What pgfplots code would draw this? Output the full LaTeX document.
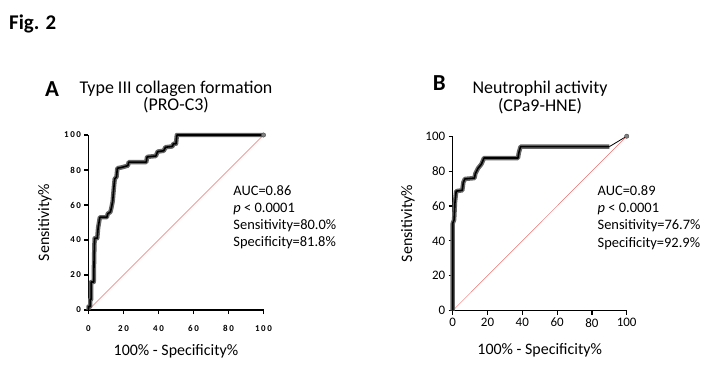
\documentclass[border=0pt]{standalone}
\usepackage{fontspec}
\setmainfont{Carlito}
\usepackage{pgfplots}
\pgfplotsset{compat=1.18}
\definecolor{diag}{RGB}{238,110,110}
\pgfplotsset{rocstyle/.style={scale only axis, xmin=0,xmax=100,ymin=0,ymax=100,
  axis x line*=bottom, axis y line*=left, axis line style={line width=1.5pt,-},
  xtick={0,20,...,100}, ytick={0,20,...,100}, tick align=outside,
  major tick length=4bp, tick style={line width=1.2pt, black}, clip=false,
  /pgf/number format/assume math mode=true,
  label style={font=\fontsize{16}{16}\selectfont}}}
\pgfplotstableread{
x y
0 0
0 2
1 2
1 6
1.5 6
1.5 16
3 16
3.2 30
3.5 41
5 41
5.5 47
6.5 53
10.5 53
11 55
12.5 56
13 58
13.8 62
14.5 70
15 75
16 76
16.5 81
19 81.5
22.5 82.5
23 84.5
33 84.5
33.5 87.5
38.5 88
39.5 90.5
43 91
44 93
48 93.5
48.5 95
50 95
50.5 100
100 100
}\rocA
\pgfplotstableread{
x y
0 0
0 50
0.8 52
1.3 62
2 68.5
5.5 69
6.1 73.5
7 75.5
12.5 76
13 78.5
14.5 81.5
16.5 84
18 87.5
37.5 87.5
38 90.5
39 94
90 94
}\rocB
\begin{document}
\begin{tikzpicture}
\path[use as bounding box] (0bp,0bp) rectangle (716bp,387bp);
\node[anchor=base west, inner sep=0, font=\fontsize{21}{21}\selectfont\bfseries] at (9bp,357.7bp) {Fig. 2};
% Panel A
\node[anchor=base west, inner sep=0, font=\fontsize{23}{23}\selectfont\bfseries] at (45bp,290.3bp) {A};
\node[anchor=base, inner sep=0, font=\fontsize{18}{18}\selectfont] at (176bp,293.7bp) {Type III collagen formation};
\node[anchor=base, inner sep=0, font=\fontsize{18}{18}\selectfont] at (176bp,276bp) {(PRO-C3)};
\begin{axis}[rocstyle, at={(88.5bp,77bp)}, anchor=south west, width=175bp, height=175bp,
  tick label style={font=\fontsize{9}{9}\selectfont\bfseries\addfontfeature{LetterSpace=18}},
  xticklabel shift=8bp,
  xlabel={100\% - Specificity\%}, ylabel={Sensitivity\%},
  xlabel style={at={(axis description cs:0.5,-0.234)}, anchor=center},
  ylabel style={at={(axis description cs:-0.249,0.5)}, anchor=center}]
\addplot[diag, line width=0.5pt] coordinates {(0,0) (100,100)};
\addplot[draw=black!60, line width=4.5pt, line join=round] table {\rocA};
\addplot[black, line width=1.6pt, line join=round] table {\rocA};
\addplot[only marks, mark=*, mark size=2.2pt, mark options={fill=gray, draw=black!70}] coordinates {(100,100)};
\node[anchor=base west, inner sep=0, font=\fontsize{14.5}{14.5}\selectfont] at (axis cs:82.7,65.7) {AUC=0.86};
\node[anchor=base west, inner sep=0, font=\fontsize{14.5}{14.5}\selectfont] at (axis cs:82.7,55.9) {\textit{p} < 0.0001};
\node[anchor=base west, inner sep=0, font=\fontsize{14.5}{14.5}\selectfont] at (axis cs:82.7,46.1) {Sensitivity=80.0\%};
\node[anchor=base west, inner sep=0, font=\fontsize{14.5}{14.5}\selectfont] at (axis cs:82.7,36.3) {Specificity=81.8\%};
\end{axis}
% Panel B
\node[anchor=base west, inner sep=0, font=\fontsize{23}{23}\selectfont\bfseries] at (432.7bp,296.3bp) {B};
\node[anchor=base, inner sep=0, font=\fontsize{18}{18}\selectfont] at (540bp,293.5bp) {Neutrophil activity};
\node[anchor=base, inner sep=0, font=\fontsize{18}{18}\selectfont] at (540bp,275.5bp) {(CPa9-HNE)};
\begin{axis}[rocstyle, at={(452.7bp,76.3bp)}, anchor=south west, width=174bp, height=174.5bp,
  tick label style={font=\fontsize{13}{13}\selectfont},
  xlabel={100\% - Specificity\%}, ylabel={Sensitivity\%},
  xlabel style={at={(axis description cs:0.5,-0.229)}, anchor=center},
  ylabel style={at={(axis description cs:-0.257,0.5)}, anchor=center}]
\addplot[diag, line width=0.5pt] coordinates {(0,0) (100,100)};
\addplot[black, line width=0.8pt] coordinates {(90,94) (100,100)};
\addplot[draw=black!60, line width=4.5pt, line join=round] table {\rocB};
\addplot[black, line width=1.6pt, line join=round] table {\rocB};
\addplot[only marks, mark=*, mark size=2.2pt, mark options={fill=gray, draw=black!70}] coordinates {(100,100)};
\node[anchor=base west, inner sep=0, font=\fontsize{14.5}{14.5}\selectfont] at (axis cs:83.2,65.9) {AUC=0.89};
\node[anchor=base west, inner sep=0, font=\fontsize{14.5}{14.5}\selectfont] at (axis cs:83.2,56.1) {\textit{p} < 0.0001};
\node[anchor=base west, inner sep=0, font=\fontsize{14.5}{14.5}\selectfont] at (axis cs:83.2,46.3) {Sensitivity=76.7\%};
\node[anchor=base west, inner sep=0, font=\fontsize{14.5}{14.5}\selectfont] at (axis cs:83.2,36.5) {Specificity=92.9\%};
\end{axis}
\end{tikzpicture}
\end{document}
